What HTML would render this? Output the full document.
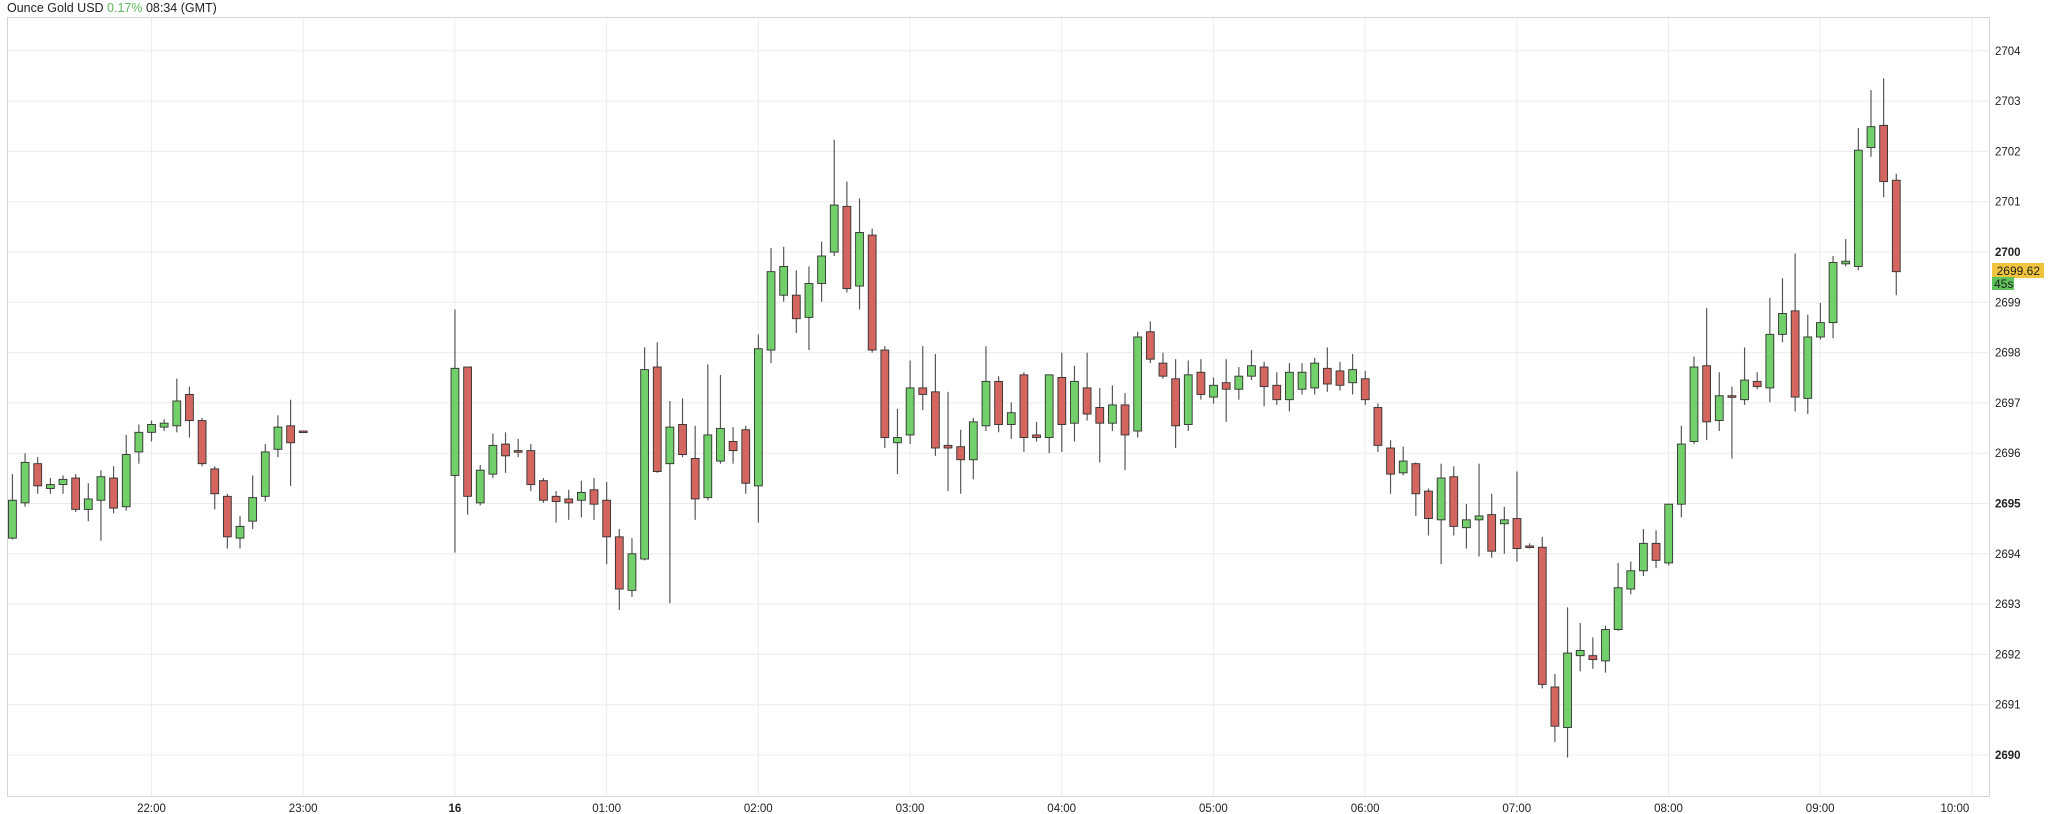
<!DOCTYPE html>
<html><head><meta charset="utf-8"><style>
html,body{margin:0;padding:0;background:#fff;}
svg{display:block;font-family:"Liberation Sans",sans-serif;}
</style></head><body>
<svg id="s" width="2048" height="814" xmlns="http://www.w3.org/2000/svg">
<text x="7" y="12" font-size="12.5" fill="#222">Ounce Gold USD <tspan fill="#5cb85c">0.17%</tspan> 08:34 (GMT)</text>
<g id="grid"></g>
<rect x="7.5" y="17.5" width="1982" height="779" fill="none" stroke="#d4d4d4"/>
<g id="c" transform="scale(1.30612)"></g>
<g id="lab" font-size="11.5" fill="#222"></g>
<rect x="1992" y="263" width="52" height="15" fill="#f0c43c"/>
<text x="2040" y="275" font-size="12" text-anchor="end" fill="#222">2699.62</text>
<rect x="1992" y="277" width="22" height="13" fill="#5dc35a"/>
<text x="1994" y="288" font-size="12" fill="#222">45s</text>
</svg>
<script>
var NS="http://www.w3.org/2000/svg";
function el(p,t,a,txt){var e=document.createElementNS(NS,t);for(var k in a)e.setAttribute(k,a[k]);if(txt!=null)e.textContent=txt;p.appendChild(e);return e;}
var g=document.getElementById('grid'),lab=document.getElementById('lab');
for(var p=2690;p<=2704;p++){var y=252+(2700-p)*50.3;
 el(g,'line',{x1:7,x2:1990,y1:y,y2:y,stroke:'#ececec'});
 var b=(p%5==0);
 el(lab,'text',{x:1995,y:y+4,'font-weight':b?'bold':'normal'},String(p));}
var hrs=['22:00','23:00','16','01:00','02:00','03:00','04:00','05:00','06:00','07:00','08:00','09:00','10:00'];
for(var i=0;i<hrs.length;i++){var x=151.5+i*151.7;
 el(g,'line',{x1:x,x2:x,y1:17,y2:797,stroke:'#ececec'});
 var lx=(i==12)?x-17:x;
 el(lab,'text',{x:lx,y:812,'text-anchor':'middle','font-weight':hrs[i]=='16'?'bold':'normal'},hrs[i]);}
var d=[[-11,363,383,412,413,'g'],[-10,347,354,385,388,'g'],[-9,350,355,372,378,'r'],[-8,366,371,374,378,'g'],[-7,364,367,371,378,'g'],[-6,363,366,390,392,'r'],[-5,370,382,390,399,'g'],[-4,360,365,383,414,'g'],[-3,357,366,389,393,'r'],[-2,333,348,388,391,'g'],[-1,325,331,346,355,'g'],[0,322,325,331,338,'g'],[1,321,324,327,330,'g'],[2,290,307,326,331,'g'],[3,296,302,322,335,'r'],[4,320,322,355,357,'r'],[5,357,359,378,390,'r'],[6,378,380,411,420,'r'],[7,395,403,412,420,'g'],[8,364,381,399,405,'g'],[9,340,346,380,384,'g'],[10,318,327,344,350,'g'],[11,306,326,339,372,'r'],[12,330,330,331,331,'r'],
[24,237,282,364,423,'g'],[25,281,281,380,394,'r'],[26,356,360,385,387,'g'],[27,332,341,363,366,'g'],[28,331,340,349,362,'r'],[29,336,345,346,350,'r'],[30,340,345,371,376,'r'],[31,366,368,383,385,'r'],[32,376,380,384,400,'r'],[33,375,382,385,398,'r'],[34,368,377,383,396,'g'],[35,366,375,386,398,'r'],[36,369,383,411,432,'r'],[37,405,411,451,467,'r'],[38,412,424,452,457,'g'],[39,266,283,428,429,'g'],[40,262,281,361,362,'r'],[41,307,327,355,462,'g'],[42,305,325,348,350,'r'],[43,326,351,382,398,'r'],[44,279,333,381,383,'g'],[45,287,328,353,355,'g'],[46,327,338,345,355,'r'],[47,326,329,370,378,'r'],[48,256,267,372,400,'g'],[49,190,208,268,278,'g'],[50,189,204,226,231,'g'],[51,207,226,244,255,'r'],[52,204,217,243,268,'g'],[53,185,196,217,231,'g'],[54,107,157,193,196,'g'],[55,139,158,221,224,'r'],[56,152,178,219,237,'g'],[57,175,180,268,270,'r'],[58,265,268,335,343,'r'],[59,313,335,339,363,'g'],[60,276,297,333,340,'g'],[61,265,297,302,314,'r'],[62,271,300,343,349,'r'],[63,300,341,343,376,'r'],[64,329,342,352,378,'r'],[65,320,323,352,367,'g'],[66,265,292,326,330,'g'],[67,288,292,325,331,'r'],[68,308,316,325,336,'g'],[69,285,287,335,346,'r'],[70,323,333,335,338,'r'],[71,287,287,335,347,'g'],[72,270,289,325,346,'r'],[73,280,292,324,338,'g'],[74,270,297,317,322,'r'],[75,297,312,324,354,'r'],[76,295,310,324,330,'g'],[77,301,310,333,360,'r'],[78,254,258,330,335,'g'],[79,246,254,275,278,'r'],[80,270,278,288,290,'r'],[81,275,290,326,343,'r'],[82,276,287,325,330,'g'],[83,275,285,302,306,'r'],[84,289,295,304,309,'g'],[85,275,293,298,323,'r'],[86,281,288,298,306,'g'],[87,268,280,288,291,'g'],[88,277,281,296,311,'r'],[89,285,295,306,310,'r'],[90,278,285,306,315,'g'],[91,278,285,298,302,'g'],[92,274,278,297,302,'g'],[93,266,282,294,300,'r'],[94,277,284,295,299,'r'],[95,271,283,293,302,'g'],[96,284,290,306,310,'r'],[97,309,312,341,346,'r'],[98,337,343,363,378,'r'],[99,342,353,362,364,'g'],[100,354,355,378,395,'r'],[101,374,376,397,410,'r'],[102,355,366,398,432,'g'],[103,357,365,403,410,'r'],[104,386,398,404,420,'g'],[105,355,395,398,426,'g'],[106,378,394,422,427,'r'],[107,388,398,401,424,'g'],[108,361,397,420,430,'r'],[109,416,418,419,420,'r'],[110,411,419,524,527,'r'],[111,516,526,556,568,'r'],[112,465,500,557,580,'g'],[113,477,498,502,514,'g'],[114,488,502,505,512,'r'],[115,479,482,506,515,'g'],[116,431,450,482,483,'g'],[117,430,437,451,455,'g'],[118,405,416,437,441,'g'],[119,406,416,429,435,'r'],[120,386,386,431,433,'g'],[121,326,340,386,396,'g'],[122,273,281,338,340,'g'],[123,236,280,323,337,'r'],[124,285,303,322,330,'g'],[125,296,303,304,351,'r'],[126,266,291,306,310,'g'],[127,285,292,296,298,'r'],[128,228,256,297,308,'g'],[129,213,240,256,262,'g'],[130,194,238,304,315,'r'],[131,241,258,305,317,'g'],[132,232,247,258,260,'g'],[133,196,201,247,259,'g'],[134,183,200,202,204,'g'],[135,98,115,204,207,'g'],[136,69,97,113,120,'g'],[137,60,96,139,151,'r'],[138,133,138,208,226,'r']];
var c=document.getElementById('c');
d.forEach(function(a){var x=116+a[0]*9.68;
 el(c,'line',{x1:x,x2:x,y1:a[1],y2:a[4],stroke:'#555','stroke-width':0.9});
 var h=Math.max(a[3]-a[2],1.2);
 el(c,'rect',{x:x-3,y:a[2],width:6,height:h,fill:a[5]=='g'?'#72d06a':'#d4665f',stroke:'#333','stroke-width':0.7});
});
</script>
</body></html>
